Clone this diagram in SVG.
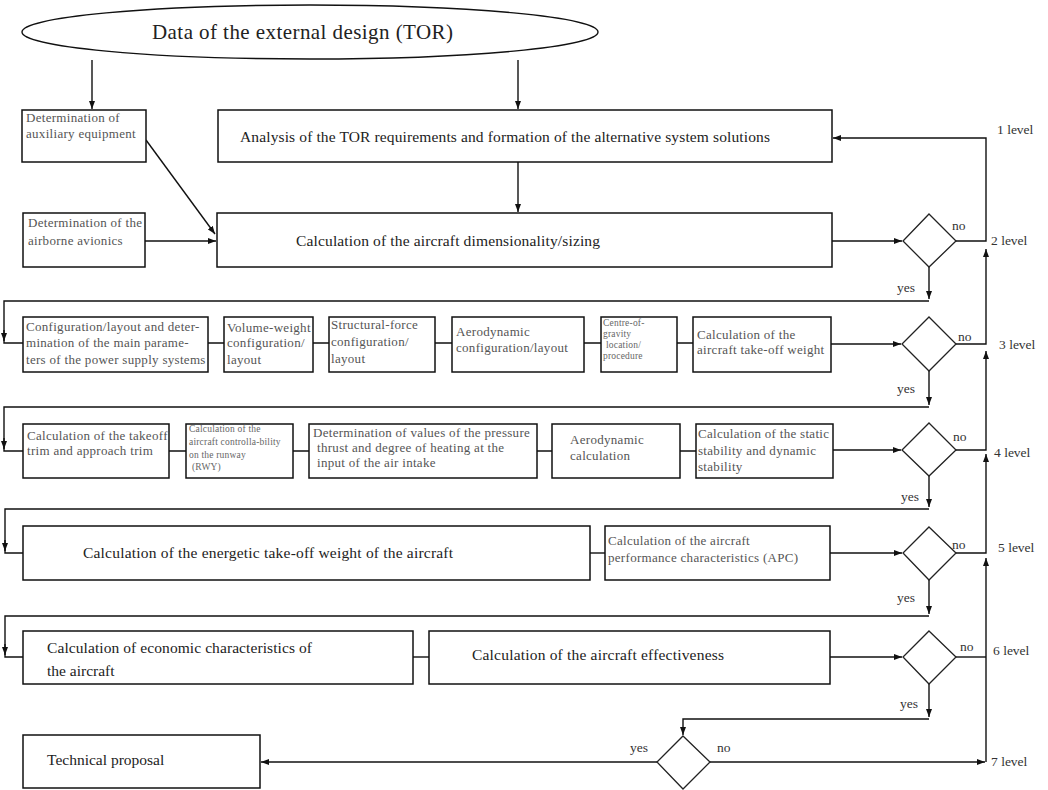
<svg xmlns="http://www.w3.org/2000/svg" width="1048" height="790" viewBox="0 0 1048 790">
<style>
.bx{fill:#fff;stroke:#111;stroke-width:1.5}
.dm{fill:#fff;stroke:#222;stroke-width:1.3}
.ln{fill:none;stroke:#111;stroke-width:1.4}
.ar{fill:none;stroke:#111;stroke-width:1.4;marker-end:url(#ah)}
.t{font-family:"Liberation Serif",serif;fill:#222}
.big{font-size:15.5px}
.sm{font-size:13px;fill:#555;letter-spacing:0.3px}
.xs{font-size:9.5px;fill:#666;letter-spacing:0.2px}
.lb{font-size:13.5px;fill:#333}
</style>
<defs>
<marker id="ah" markerWidth="9" markerHeight="7" refX="8" refY="3.5" orient="auto" markerUnits="userSpaceOnUse">
<path d="M0,0.5 L8,3.5 L0,6.5 z" fill="#111"/>
</marker>
</defs>
<rect width="1048" height="790" fill="#fff"/>

<g id="connectors">
<path class="ar" d="M92,60 V109"/>
<path class="ar" d="M518,60 V109"/>
<path class="ar" d="M518,162 V212"/>
<path class="ar" d="M146,140 L215,234"/>
<path class="ar" d="M145,241 H216"/>
<path class="ar" d="M832,241 H902"/>
<path class="ar" d="M956,241 H986 V138 H833"/>
<path class="ar" d="M929,267 V299"/>
<path class="ln" d="M929,301 H4 V343 H23"/>
<path class="ar" d="M4,330 V341"/>
<path class="ln" d="M208,343 H224 M313,343 H329 M435,343 H452 M584,343 H601 M677,343 H693"/>
<path class="ar" d="M831,344 H901"/>
<path class="ar" d="M956,344 H986 V249"/>
<path class="ar" d="M929,371 V405"/>
<path class="ln" d="M929,407 H4 V451 H23"/>
<path class="ar" d="M4,438 V449"/>
<path class="ln" d="M169,451 H186 M293,451 H309 M537,451 H552 M680,451 H696"/>
<path class="ar" d="M833,450 H901"/>
<path class="ar" d="M956,450 H986 V351"/>
<path class="ar" d="M929,476 V507"/>
<path class="ln" d="M929,509 H5 V553 H23"/>
<path class="ar" d="M5,540 V551"/>
<path class="ln" d="M590,553 H605"/>
<path class="ar" d="M830,553 H902"/>
<path class="ar" d="M956,553 H986 V454"/>
<path class="ar" d="M929,580 V614"/>
<path class="ln" d="M929,616 H5 V657 H23"/>
<path class="ar" d="M5,644 V655"/>
<path class="ln" d="M413,657 H429"/>
<path class="ar" d="M830,657 H902"/>
<path class="ln" d="M956,657 H986"/>
<path class="ar" d="M929,684 V717"/>
<path class="ar" d="M929,719 H683 V735"/>
<path class="ar" d="M657,762 H261"/>
<path class="ar" d="M710,762 H985"/>
<path class="ar" d="M986,762 V558"/>
</g>

<g id="n-title">
<ellipse cx="310" cy="32" rx="288" ry="27" fill="#fff" stroke="#111" stroke-width="1.4"/>
<text class="t" x="152" y="39" font-size="21" textLength="301">Data of the external design (TOR)</text>
</g>

<g id="n-aux">
<rect class="bx" x="22" y="110" width="124" height="52"/>
<text class="t sm" x="26" y="122">Determination of</text>
<text class="t sm" x="26" y="138">auxiliary equipment</text>
</g>

<g id="n-analysis">
<rect class="bx" x="218" y="110" width="614" height="52"/>
<text class="t big" x="240" y="142" textLength="530">Analysis of the TOR requirements and formation of the alternative system solutions</text>
</g>

<g id="n-avionics">
<rect class="bx" x="23" y="213" width="122" height="54"/>
<text class="t sm" x="28" y="227">Determination of the</text>
<text class="t sm" x="28" y="245">airborne avionics</text>
</g>

<g id="n-sizing">
<rect class="bx" x="217" y="213" width="615" height="54"/>
<text class="t big" x="296" y="246" textLength="304">Calculation of the aircraft dimensionality/sizing</text>
</g>

<g id="d2"><path class="dm" d="M929,214 L956,241 L929,267 L903,241 Z"/>
<text class="t lb" x="952" y="230">no</text><text class="t lb" x="897" y="292">yes</text></g>

<g id="n-power">
<rect class="bx" x="23" y="317" width="185" height="55"/>
<text class="t sm" x="26" y="331">Configuration/layout and deter-</text>
<text class="t sm" x="26" y="347">mination of the main parame-</text>
<text class="t sm" x="26" y="364">ters of the power supply systems</text>
</g>
<g id="n-volume">
<rect class="bx" x="224" y="317" width="89" height="55"/>
<text class="t sm" x="227" y="332">Volume-weight</text>
<text class="t sm" x="227" y="347">configuration/</text>
<text class="t sm" x="227" y="364">layout</text>
</g>
<g id="n-struct">
<rect class="bx" x="329" y="317" width="106" height="55"/>
<text class="t sm" x="331" y="329">Structural-force</text>
<text class="t sm" x="331" y="346">configuration/</text>
<text class="t sm" x="331" y="363">layout</text>
</g>
<g id="n-aero">
<rect class="bx" x="452" y="317" width="132" height="55"/>
<text class="t sm" x="456" y="336">Aerodynamic</text>
<text class="t sm" x="456" y="352">configuration/layout</text>
</g>
<g id="n-cg">
<rect class="bx" x="601" y="317" width="76" height="55"/>
<text class="t xs" x="603" y="326">Centre-of-</text>
<text class="t xs" x="603" y="337">gravity</text>
<text class="t xs" x="606" y="348">location/</text>
<text class="t xs" x="603" y="359">procedure</text>
</g>
<g id="n-tow">
<rect class="bx" x="693" y="317" width="138" height="55"/>
<text class="t sm" x="697" y="339">Calculation of the</text>
<text class="t sm" x="697" y="354">aircraft take-off weight</text>
</g>
<g id="d3"><path class="dm" d="M929,317 L956,344 L929,371 L902,344 Z"/>
<text class="t lb" x="958" y="341">no</text><text class="t lb" x="897" y="393">yes</text></g>

<g id="n-trim">
<rect class="bx" x="23" y="424" width="146" height="54"/>
<text class="t sm" x="27" y="440">Calculation of the takeoff</text>
<text class="t sm" x="27" y="455">trim and approach trim</text>
</g>
<g id="n-rwy">
<rect class="bx" x="186" y="424" width="107" height="54"/>
<text class="t xs" x="189" y="432">Calculation of the</text>
<text class="t xs" x="189" y="445">aircraft controlla-bility</text>
<text class="t xs" x="189" y="458">on the runway</text>
<text class="t xs" x="192" y="470">(RWY)</text>
</g>
<g id="n-thrust">
<rect class="bx" x="309" y="424" width="228" height="54"/>
<text class="t sm" x="313" y="437">Determination of values of the pressure</text>
<text class="t sm" x="317" y="452">thrust and degree of heating at the</text>
<text class="t sm" x="317" y="467">input of the air intake</text>
</g>
<g id="n-aerocalc">
<rect class="bx" x="552" y="424" width="128" height="54"/>
<text class="t sm" x="570" y="444">Aerodynamic</text>
<text class="t sm" x="570" y="460">calculation</text>
</g>
<g id="n-stab">
<rect class="bx" x="696" y="424" width="137" height="54"/>
<text class="t sm" x="698" y="438">Calculation of the static</text>
<text class="t sm" x="698" y="455">stability and dynamic</text>
<text class="t sm" x="698" y="471">stability</text>
</g>
<g id="d4"><path class="dm" d="M929,423 L956,450 L929,476 L902,450 Z"/>
<text class="t lb" x="953" y="441">no</text><text class="t lb" x="901" y="501">yes</text></g>

<g id="n-energ">
<rect class="bx" x="23" y="526" width="567" height="54"/>
<text class="t big" x="83" y="558" textLength="370">Calculation of the energetic take-off weight of the aircraft</text>
</g>
<g id="n-apc">
<rect class="bx" x="605" y="526" width="225" height="54"/>
<text class="t sm" x="608" y="545">Calculation of the aircraft</text>
<text class="t sm" x="608" y="562">performance characteristics (APC)</text>
</g>
<g id="d5"><path class="dm" d="M929,527 L956,553 L929,580 L903,553 Z"/>
<text class="t lb" x="952" y="549">no</text><text class="t lb" x="897" y="602">yes</text></g>

<g id="n-econ">
<rect class="bx" x="23" y="631" width="390" height="53"/>
<text class="t big" x="47" y="653" textLength="265">Calculation of economic characteristics of</text>
<text class="t big" x="47" y="676">the aircraft</text>
</g>
<g id="n-effect">
<rect class="bx" x="429" y="631" width="401" height="53"/>
<text class="t big" x="472" y="660" textLength="252">Calculation of the aircraft effectiveness</text>
</g>
<g id="d6"><path class="dm" d="M929,631 L956,657 L929,684 L903,657 Z"/>
<text class="t lb" x="960" y="651">no</text><text class="t lb" x="900" y="708">yes</text></g>

<g id="n-tech">
<rect class="bx" x="23" y="735" width="237" height="53"/>
<text class="t big" x="47" y="765">Technical proposal</text>
</g>
<g id="d7"><path class="dm" d="M683,736 L710,762 L683,789 L657,762 Z"/>
<text class="t lb" x="630" y="752">yes</text><text class="t lb" x="717" y="752">no</text></g>

<g id="levels">
<text class="t lb" x="997" y="134">1 level</text>
<text class="t lb" x="991" y="245">2 level</text>
<text class="t lb" x="999" y="349">3 level</text>
<text class="t lb" x="994" y="457">4 level</text>
<text class="t lb" x="998" y="552">5 level</text>
<text class="t lb" x="993" y="655">6 level</text>
<text class="t lb" x="991" y="766">7 level</text>
</g>
</svg>
